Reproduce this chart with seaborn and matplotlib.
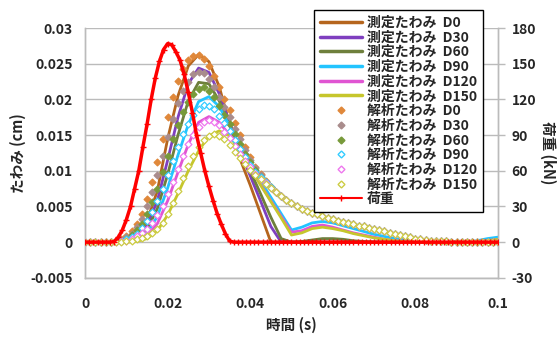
import numpy as np
import pandas as pd
import matplotlib
matplotlib.use("Agg")
import matplotlib.pyplot as plt
from matplotlib.lines import Line2D
import seaborn as sns

# ---- データ ----
# 測定たわみ (cm) : 0.0025 s 刻み, 0 ~ 0.1 s
t_meas = np.round(np.arange(41) * 0.0025, 5)
meas_D0 = [0, 0, 0, 0, 0.0002, 0.0010, 0.0030, 0.0072, 0.0145, 0.0205,
           0.0247, 0.0263, 0.0253, 0.0218, 0.0165, 0.0117, 0.0080, 0.0040, 0.0000, 0.0000,
           0, 0, 0, 0, 0, 0, 0, 0, 0, 0,
           0, 0, 0, 0, 0, 0, 0, 0, 0, 0, 0]
meas_D30 = [0, 0, 0, 0, 0.0001, 0.0007, 0.0023, 0.0058, 0.0115, 0.0175,
            0.0222, 0.0244, 0.0238, 0.0208, 0.0168, 0.0128, 0.0093, 0.0058, 0.0022, 0.0000,
            0, 0, 0, 0, 0, 0, 0, 0, 0, 0,
            0, 0, 0, 0, 0, 0, 0, 0, 0, 0, 0]
meas_D60 = [0, 0, 0, 0, 0.0001, 0.0005, 0.0018, 0.0047, 0.0095, 0.0150,
            0.0198, 0.0224, 0.0222, 0.0198, 0.0165, 0.0132, 0.0100, 0.0068, 0.0035, 0.0005,
            0.0000, 0.0001, 0.0003, 0.0005, 0.0005, 0.0004, 0.0002, 0.0001, 0, 0,
            0, 0, 0, 0, 0, 0, 0, 0, 0, 0, 0]
meas_D90 = [0, 0, 0, 0, 0.0001, 0.0003, 0.0013, 0.0036, 0.0076, 0.0122,
            0.0165, 0.0197, 0.0204, 0.0190, 0.0163, 0.0136, 0.0110, 0.0086, 0.0063, 0.0040,
            0.0017, 0.0021, 0.0027, 0.0029, 0.0027, 0.0023, 0.0019, 0.0015, 0.0011, 0.0008,
            0.0005, 0.0003, 0.0001, 0, 0, 0, 0, 0, 0.0002, 0.0005, 0.0007]
meas_D120 = [0, 0, 0, 0, 0, 0.0002, 0.0009, 0.0026, 0.0058, 0.0098,
             0.0137, 0.0168, 0.0176, 0.0168, 0.0150, 0.0128, 0.0105, 0.0081, 0.0058, 0.0036,
             0.0014, 0.0016, 0.0022, 0.0024, 0.0021, 0.0017, 0.0013, 0.0010, 0.0007, 0.0004,
             0.0002, 0.0001, 0, 0, 0, 0, 0, 0, 0.0001, 0.0002, 0.0004]
meas_D150 = [0, 0, 0, 0, 0, 0.0001, 0.0005, 0.0016, 0.0038, 0.0068,
             0.0100, 0.0128, 0.0149, 0.0156, 0.0149, 0.0128, 0.0104, 0.0080, 0.0057, 0.0034,
             0.0010, 0.0013, 0.0019, 0.0021, 0.0019, 0.0016, 0.0012, 0.0009, 0.0006, 0.0004,
             0.0002, 0.0001, 0, 0, 0, 0, 0, 0, 0.0001, 0.0002, 0.0004]

# 解析たわみ (cm) : 0.00125 s 刻み, 0 ~ 0.1 s
t_ana = np.round(np.arange(81) * 0.00125, 6)
ana_tail = [0.0055, 0.0051, 0.0047, 0.0044, 0.0041, 0.0039, 0.0036, 0.0034, 0.0032, 0.0030,
            0.0028, 0.0027, 0.0025, 0.0023, 0.0022, 0.0020, 0.0018, 0.0017, 0.0015, 0.0013,
            0.0011, 0.0010, 0.0008, 0.0007, 0.0005, 0.0004, 0.0003, 0.0002, 0.0002, 0.0001,
            0.0001, 0, 0, 0, 0, 0, 0, 0, 0, 0, 0]
ana_D0 = [0, 0, 0, 0, 0, 0.0000, 0.0002, 0.0004, 0.0008, 0.0015,
          0.0025, 0.0040, 0.0060, 0.0085, 0.0113, 0.0145, 0.0175, 0.0203, 0.0226, 0.0243,
          0.0255, 0.0261, 0.0262, 0.0257, 0.0247, 0.0233, 0.0217, 0.0201, 0.0185, 0.0167,
          0.0150, 0.0134, 0.0119, 0.0106, 0.0095, 0.0086, 0.0078, 0.0071, 0.0065, 0.0059] + ana_tail
ana_D30 = [0, 0, 0, 0, 0, 0.0000, 0.0002, 0.0003, 0.0007, 0.0012,
           0.0021, 0.0033, 0.0050, 0.0071, 0.0094, 0.0121, 0.0148, 0.0173, 0.0195, 0.0212,
           0.0225, 0.0235, 0.0239, 0.0237, 0.0229, 0.0218, 0.0204, 0.0190, 0.0175, 0.0159,
           0.0144, 0.0129, 0.0115, 0.0104, 0.0094, 0.0085, 0.0078, 0.0071, 0.0065, 0.0059] + ana_tail
ana_D60 = [0, 0, 0, 0, 0, 0.0000, 0.0001, 0.0002, 0.0005, 0.0010,
           0.0017, 0.0026, 0.0040, 0.0056, 0.0075, 0.0098, 0.0121, 0.0144, 0.0164, 0.0182,
           0.0196, 0.0207, 0.0215, 0.0217, 0.0212, 0.0203, 0.0191, 0.0178, 0.0165, 0.0151,
           0.0137, 0.0124, 0.0112, 0.0101, 0.0092, 0.0084, 0.0077, 0.0071, 0.0065, 0.0059] + ana_tail
ana_D90 = [0, 0, 0, 0, 0, 0.0000, 0.0001, 0.0002, 0.0004, 0.0007,
           0.0012, 0.0020, 0.0029, 0.0042, 0.0057, 0.0074, 0.0094, 0.0114, 0.0134, 0.0151,
           0.0166, 0.0178, 0.0187, 0.0192, 0.0191, 0.0186, 0.0177, 0.0167, 0.0156, 0.0143,
           0.0131, 0.0119, 0.0108, 0.0099, 0.0091, 0.0084, 0.0077, 0.0070, 0.0064, 0.0059] + ana_tail
ana_D120 = [0, 0, 0, 0, 0, 0.0000, 0.0000, 0.0001, 0.0002, 0.0005,
            0.0008, 0.0013, 0.0019, 0.0027, 0.0038, 0.0051, 0.0067, 0.0085, 0.0103, 0.0121,
            0.0137, 0.0150, 0.0161, 0.0168, 0.0171, 0.0169, 0.0164, 0.0155, 0.0146, 0.0135,
            0.0124, 0.0114, 0.0105, 0.0096, 0.0089, 0.0083, 0.0076, 0.0070, 0.0064, 0.0059] + ana_tail
ana_D150 = [0, 0, 0, 0, 0, 0, 0, 0.0000, 0.0001, 0.0002,
            0.0004, 0.0006, 0.0009, 0.0013, 0.0019, 0.0027, 0.0040, 0.0055, 0.0072, 0.0090,
            0.0107, 0.0121, 0.0133, 0.0143, 0.0149, 0.0151, 0.0149, 0.0144, 0.0136, 0.0127,
            0.0118, 0.0109, 0.0101, 0.0094, 0.0088, 0.0082, 0.0076, 0.0070, 0.0064, 0.0059] + ana_tail

# 荷重 (kN) : 0.001 s 刻み, 0 ~ 0.1 s
t_load = np.round(np.arange(101) * 0.001, 4)
load_kN = [0, 0, 0, 0, 0, 0, 0, 0.5, 4, 10,
           19, 30, 45, 60, 80, 99, 120, 138, 152, 162,
           167, 166, 160, 153, 141, 126, 109, 90, 75, 60,
           47, 35, 24, 15, 7, 1] + [0] * 65

series_names = ["D0", "D30", "D60", "D90", "D120", "D150"]
meas_values = [meas_D0, meas_D30, meas_D60, meas_D90, meas_D120, meas_D150]
ana_values = [ana_D0, ana_D30, ana_D60, ana_D90, ana_D120, ana_D150]

meas_colors = ["#B5651D", "#7F3FBF", "#6E7F3C", "#22C4FF", "#E055D2", "#C6C62C"]
ana_edge = ["#E0883A", "#A98C8C", "#789A3A", "#33CCFF", "#EE77EE", "#CCCC44"]
ana_face = ["#E0883A", "#A98C8C", "#789A3A", "white", "white", "white"]

df_meas = pd.concat([pd.DataFrame({"t": t_meas, "v": v, "s": n})
                     for n, v in zip(series_names, meas_values)], ignore_index=True)
df_ana = pd.concat([pd.DataFrame({"t": t_ana, "v": v, "s": n})
                    for n, v in zip(series_names, ana_values)], ignore_index=True)
df_load = pd.DataFrame({"t": t_load, "kN": load_kN})

# ---- 描画 ----
sns.set_style("white")
plt.rcParams["font.family"] = ["Noto Sans CJK JP", "DejaVu Sans"]
plt.rcParams["font.weight"] = "bold"
plt.rcParams["axes.unicode_minus"] = False

fig = plt.figure(figsize=(5.6, 3.43), dpi=100)
ax = fig.add_axes([0.152, 0.19, 0.737, 0.728])
ax2 = ax.twinx()

sns.lineplot(data=df_meas, x="t", y="v", hue="s", palette=dict(zip(series_names, meas_colors)),
             linewidth=2, legend=False, ax=ax, zorder=3)
for n, ec, fc in zip(series_names, ana_edge, ana_face):
    sns.scatterplot(data=df_ana[df_ana["s"] == n], x="t", y="v", marker="D", s=12,
                    color=fc, edgecolor=ec, linewidth=0.9, legend=False, ax=ax, zorder=4)
sns.lineplot(data=df_load, x="t", y="kN", color="#FF0000", linewidth=2.5, marker="+",
             markersize=4, markeredgewidth=1, markeredgecolor="#FF0000",
             legend=False, ax=ax2, zorder=5)

ax.set_xlim(0, 0.1)
ax.set_ylim(-0.005, 0.03)
ax2.set_ylim(-30, 180)
ax.set_xticks([0, 0.02, 0.04, 0.06, 0.08, 0.1])
ax.set_xticklabels(["0", "0.02", "0.04", "0.06", "0.08", "0.1"])
ax.set_yticks(np.arange(-0.005, 0.0301, 0.005))
ax.set_yticklabels(["-0.005", "0", "0.005", "0.01", "0.015", "0.02", "0.025", "0.03"])
ax2.set_yticks(range(-30, 181, 30))

ax.grid(axis="y", color="#BBBBBB", linewidth=1)
ax.grid(axis="x", visible=False)
for a in (ax, ax2):
    a.spines["top"].set_visible(False)
    for side in ["left", "right", "bottom"]:
        a.spines[side].set_color("#BBBBBB")
        a.spines[side].set_linewidth(1)
ax.tick_params(axis="x", length=0, pad=14, labelsize=10)
ax.tick_params(axis="y", length=0, pad=9, labelsize=10)
ax2.tick_params(axis="y", length=5, color="#BBBBBB", width=1, pad=5, labelsize=10)
for lab in ax.get_xticklabels() + ax.get_yticklabels() + ax2.get_yticklabels():
    lab.set_fontweight("bold")

ax.set_xlabel("時間 (s)", fontsize=10.5, fontweight="bold", labelpad=4)
ax.set_ylabel("たわみ (cm)", fontsize=10.5, fontweight="bold", labelpad=3)
ax2.set_ylabel("荷重 (kN)", fontsize=10.5, fontweight="bold", rotation=270, labelpad=14)

handles, labels = [], []
for n, c in zip(series_names, meas_colors):
    handles.append(Line2D([], [], color=c, linewidth=2.5))
    labels.append("測定たわみ  " + n)
for n, ec, fc in zip(series_names, ana_edge, ana_face):
    handles.append(Line2D([], [], linestyle="", marker="D", markersize=3.5,
                          markerfacecolor=fc, markeredgecolor=ec, markeredgewidth=1))
    labels.append("解析たわみ  " + n)
handles.append(Line2D([], [], color="#FF0000", linewidth=1.5, marker="+", markersize=4))
labels.append("荷重")

leg = fig.legend(handles, labels, loc="upper right", bbox_to_anchor=(0.863, 0.972),
                 frameon=True, fancybox=False, edgecolor="black", framealpha=1,
                 prop={"size": 10, "weight": "bold"}, handlelength=3.0,
                 labelspacing=0.05, borderpad=0.45, handletextpad=0.35, borderaxespad=0)
leg.get_frame().set_linewidth(1)
leg.set_zorder(10)

fig.savefig("out.png", dpi=100)
